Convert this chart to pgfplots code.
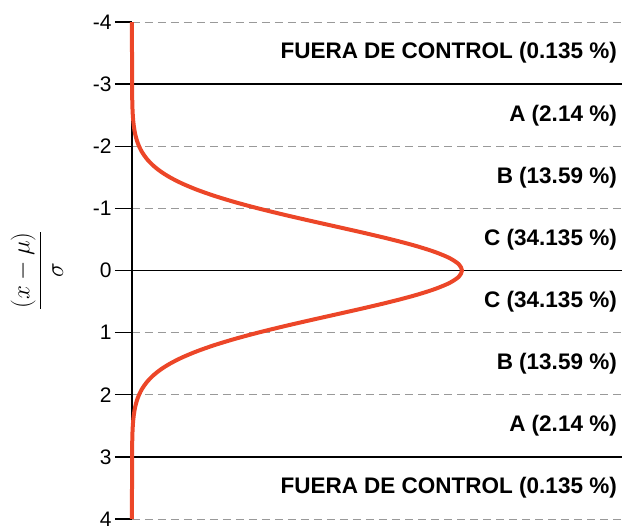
\documentclass[border=0pt]{standalone}
\usepackage{fontspec}
\setmainfont{Liberation Sans}
\usepackage{pgfplots}
\pgfplotsset{compat=1.18}
\definecolor{curvered}{RGB}{236,70,40}
\begin{document}
\begin{tikzpicture}
\useasboundingbox (-132pt,-11pt) rectangle (490pt,519pt);
\begin{axis}[
  at={(0,0)}, anchor=south west,
  scale only axis, width=490pt, height=497pt,
  xmin=0, xmax=0.5924, ymin=-4, ymax=4, y dir=reverse,
  clip=false,
  axis lines=left, axis line style={-},
  x axis line style={draw=none},
  y axis line style={line width=1.3pt},
  xtick=\empty,
  ytick={-4,-3,-2,-1,0,1,2,3,4},
  tick align=outside, major tick length=17pt,
  ytick style={line width=1.3pt, black},
  yticklabel style={font=\fontsize{21}{25}\selectfont, /pgf/number format/assume math mode=true},
  ymajorgrids,
  major grid style={color=black!40, dash pattern=on 8pt off 5pt, line width=0.9pt},
  ylabel={\fontsize{30}{34}\selectfont$\displaystyle\frac{(x-\mu)}{\sigma}$},
  every axis y label/.style={at={(axis description cs:-0.194,0.5)}, rotate=90, anchor=center},
]
\addplot[black, line width=1.5pt] coordinates {(0,-3) (0.5924,-3)};
\addplot[black, line width=1.5pt] coordinates {(0,0) (0.5924,0)};
\addplot[black, line width=1.5pt] coordinates {(0,3) (0.5924,3)};
\addplot[curvered, line width=4pt, smooth] table {
x y
0.000000 -4.0
0.000003 -3.5
0.000070 -3.0
0.000212 -2.8
0.000600 -2.6
0.000979 -2.5
0.001568 -2.4
0.002467 -2.3
0.003800 -2.2
0.005747 -2.1
0.008522 -2.0
0.012400 -1.9
0.017698 -1.8
0.024779 -1.7
0.034031 -1.6
0.045849 -1.5
0.060595 -1.4
0.078557 -1.3
0.099904 -1.2
0.124630 -1.1
0.152517 -1.0
0.183090 -0.9
0.215602 -0.8
0.249052 -0.7
0.282213 -0.6
0.313697 -0.5
0.342055 -0.4
0.365871 -0.3
0.383889 -0.2
0.395125 -0.1
0.398942 0.0
0.395125 0.1
0.383889 0.2
0.365871 0.3
0.342055 0.4
0.313697 0.5
0.282213 0.6
0.249052 0.7
0.215602 0.8
0.183090 0.9
0.152517 1.0
0.124630 1.1
0.099904 1.2
0.078557 1.3
0.060595 1.4
0.045849 1.5
0.034031 1.6
0.024779 1.7
0.017698 1.8
0.012400 1.9
0.008522 2.0
0.005747 2.1
0.003800 2.2
0.002467 2.3
0.001568 2.4
0.000979 2.5
0.000600 2.6
0.000212 2.8
0.000070 3.0
0.000003 3.5
0.000000 4.0
};
\tikzset{lab/.style={anchor=east, font=\bfseries\fontsize{22.5}{26}\selectfont, inner sep=0pt}}
\node[lab] at (axis cs:0.5924,-3.5) [xshift=-5pt] {FUERA DE CONTROL (0.135 \%)};
\node[lab] at (axis cs:0.5924,-2.5) [xshift=-5pt] {A (2.14 \%)};
\node[lab] at (axis cs:0.5924,-1.5) [xshift=-5pt] {B (13.59 \%)};
\node[lab] at (axis cs:0.5924,-0.5) [xshift=-5pt] {C (34.135 \%)};
\node[lab] at (axis cs:0.5924,0.5) [xshift=-5pt] {C (34.135 \%)};
\node[lab] at (axis cs:0.5924,1.5) [xshift=-5pt] {B (13.59 \%)};
\node[lab] at (axis cs:0.5924,2.5) [xshift=-5pt] {A (2.14 \%)};
\node[lab] at (axis cs:0.5924,3.5) [xshift=-5pt] {FUERA DE CONTROL (0.135 \%)};
\end{axis}
\end{tikzpicture}
\end{document}
